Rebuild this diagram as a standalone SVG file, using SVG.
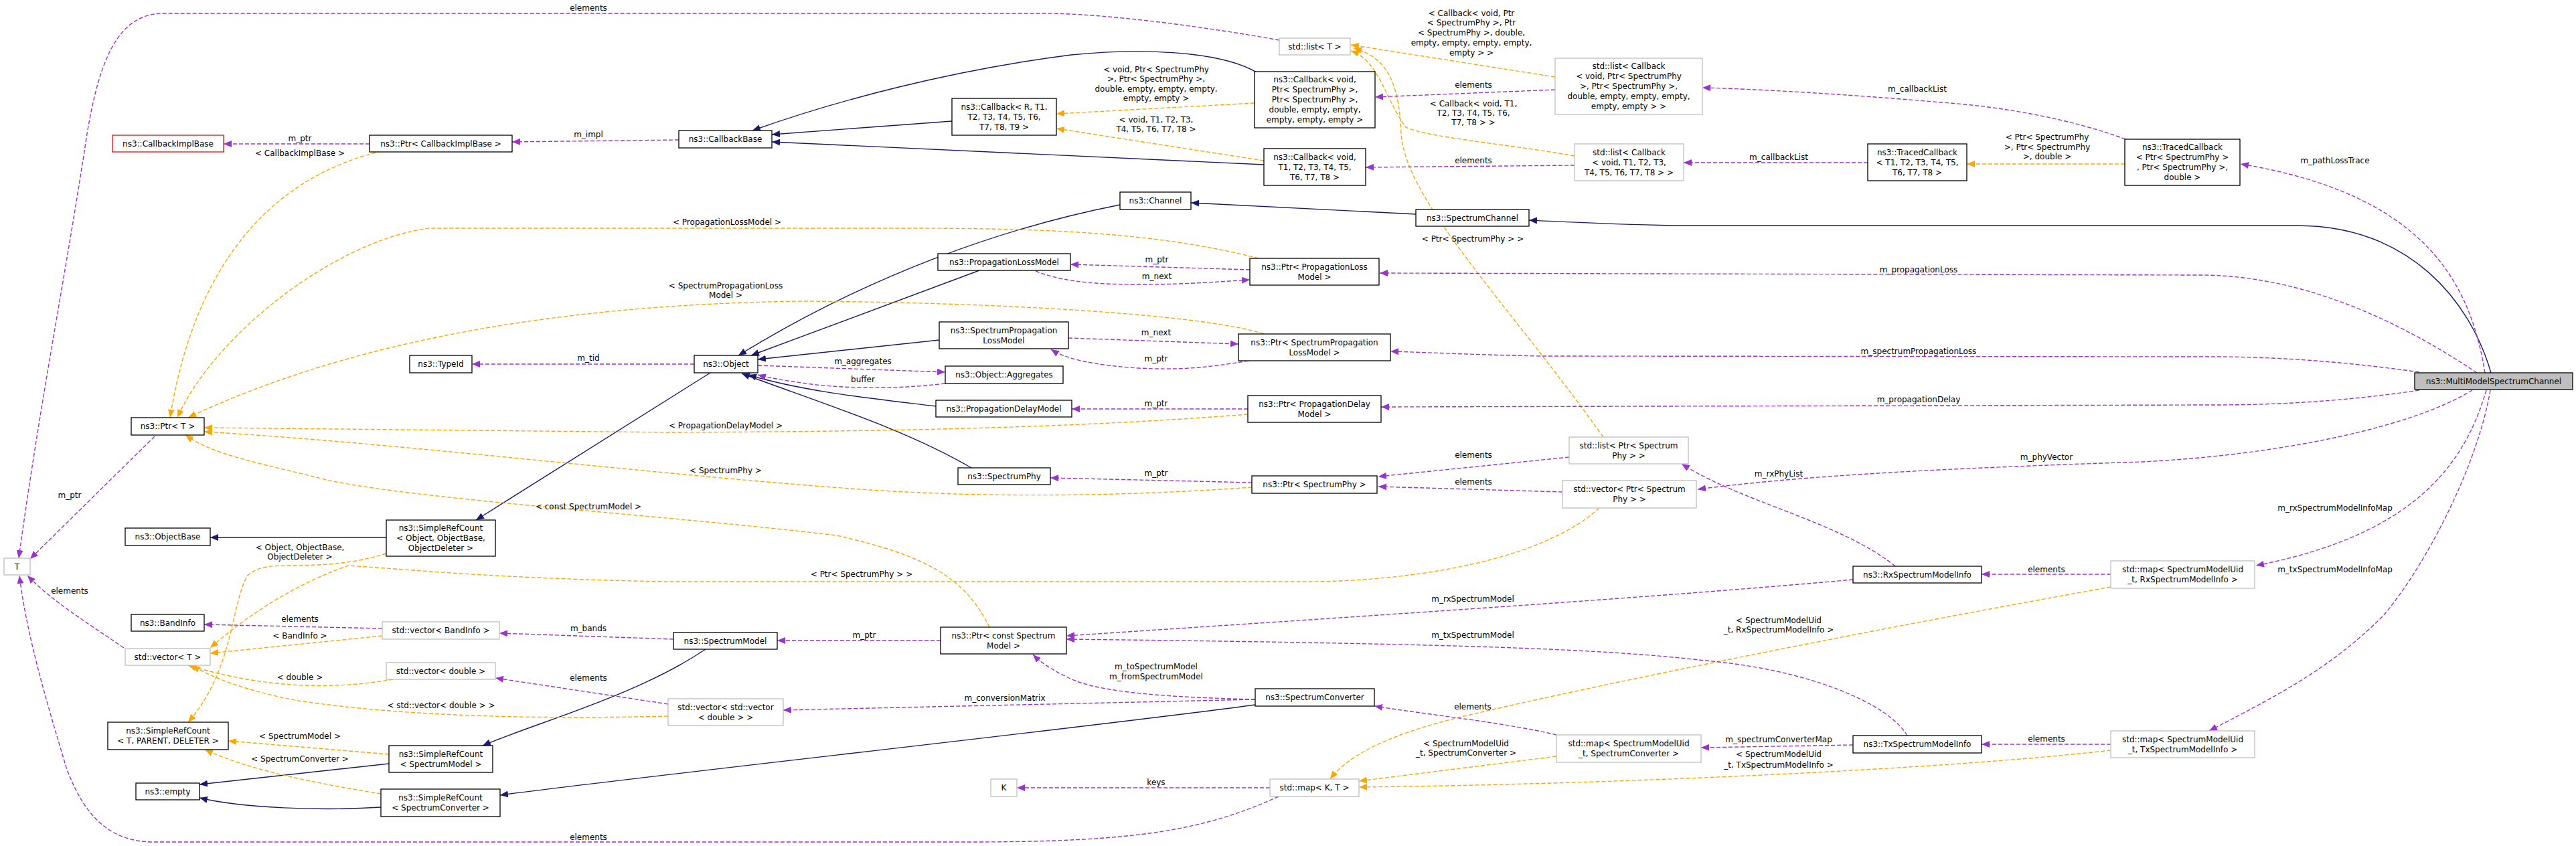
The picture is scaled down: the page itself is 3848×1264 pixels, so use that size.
<svg xmlns="http://www.w3.org/2000/svg" width="3848" height="1264" viewBox="0 0 3848 1264">
<style>
text{font-family:"DejaVu Sans","Liberation Sans",sans-serif;font-size:12px;fill:#000;text-anchor:middle}
.n rect{fill:#fff;stroke:#000;stroke-width:1.3}
.g rect{fill:#fff;stroke:#bfbfbf;stroke-width:1.3}
.r rect{fill:#fff;stroke:#ff0000;stroke-width:1.3}
.m rect{fill:#bfbfbf;stroke:#000;stroke-width:1.3}
.inh{fill:none;stroke:#191970;stroke-width:1.4;marker-end:url(#aN)}
.use{fill:none;stroke:#9a32cd;stroke-width:1.4;stroke-dasharray:6,3;marker-end:url(#aP)}
.tpl{fill:none;stroke:#ffa500;stroke-width:1.4;stroke-dasharray:6,3;marker-end:url(#aO)}
</style>
<defs>
<marker id="aN" markerUnits="userSpaceOnUse" markerWidth="12" markerHeight="10" viewBox="0 0 12 10" refX="12" refY="5" orient="auto"><path d="M0,0L12,5L0,10z" fill="#191970"/></marker>
<marker id="aP" markerUnits="userSpaceOnUse" markerWidth="12" markerHeight="10" viewBox="0 0 12 10" refX="12" refY="5" orient="auto"><path d="M0,0L12,5L0,10z" fill="#9a32cd"/></marker>
<marker id="aO" markerUnits="userSpaceOnUse" markerWidth="12" markerHeight="10" viewBox="0 0 12 10" refX="12" refY="5" orient="auto"><path d="M0,0L12,5L0,10z" fill="#ffa500"/></marker>
</defs>
<rect width="3848" height="1264" fill="#fff"/>
<g id="edges">
<path class="inh" d="M1422,181L1153,201"/>
<path class="inh" d="M1888,246L1153,212"/>
<path class="inh" d="M1877,108C1820,75 1700,72 1600,82C1420,105 1250,150 1124,195"/>
<path class="inh" d="M2115,320L1779,303"/>
<path class="inh" d="M3721,557C3690,450 3600,337 3430,337L2500,337C2400,335 2330,331 2284,329"/>
<path class="inh" d="M1673,306C1500,340 1300,410 1103,531"/>
<path class="inh" d="M1463,404L1122,531"/>
<path class="inh" d="M1403,508L1132,537"/>
<path class="inh" d="M1398,607C1300,595 1200,585 1118,560"/>
<path class="inh" d="M1451,699C1350,640 1220,600 1108,558"/>
<path class="inh" d="M1061,557L711,777"/>
<path class="inh" d="M577,803L314,803"/>
<path class="inh" d="M1054,970C950,1040 800,1080 721,1114"/>
<path class="inh" d="M1875,1053C1600,1090 1000,1155 747,1188"/>
<path class="inh" d="M581,1141L298,1172"/>
<path class="inh" d="M569,1206C480,1212 360,1207 298,1192"/>
<path class="tpl" d="M1874,154L1578,170"/>
<path class="tpl" d="M1888,240L1578,192"/>
<path class="tpl" d="M2323,115L2018,67"/>
<path class="tpl" d="M2352,233C2250,215 2130,205 2100,190C2070,150 2060,90 2018,76"/>
<path class="tpl" d="M2395,653C2250,450 2100,300 2093,200C2090,120 2070,85 2022,72"/>
<path class="tpl" d="M561,228C400,270 290,400 254,624"/>
<path class="tpl" d="M1880,386C1700,340 1500,341 1300,341L640,341C500,360 320,500 265,624"/>
<path class="tpl" d="M1888,499C1800,470 1500,452 1200,450C800,455 500,520 281,624"/>
<path class="tpl" d="M1864,619C1600,640 1300,645 1000,646L305,639"/>
<path class="tpl" d="M1870,728C1700,740 1500,745 1300,732C1000,712 600,662 305,645"/>
<path class="tpl" d="M1478,937C1440,860 1380,830 1250,800C1000,770 600,745 480,715C380,690 320,680 277,650"/>
<path class="tpl" d="M577,827C470,860 400,830 370,860C345,900 350,1000 281,1079"/>
<path class="tpl" d="M2389,759C2300,840 2100,869 1950,869L1000,869C750,865 600,850 520,845C450,870 380,910 314,968"/>
<path class="tpl" d="M571,950L314,976"/>
<path class="tpl" d="M587,1015C500,1030 400,1030 281,994"/>
<path class="tpl" d="M998,1070C800,1075 600,1070 446,1047C380,1035 320,1015 287,994"/>
<path class="tpl" d="M581,1127L341,1107"/>
<path class="tpl" d="M569,1186C470,1170 370,1150 306,1120"/>
<path class="tpl" d="M3174,245L2938,245"/>
<path class="tpl" d="M3153,877C2800,940 2400,1020 2200,1067C2100,1090 2020,1120 1987,1164"/>
<path class="tpl" d="M2325,1130L2030,1167"/>
<path class="tpl" d="M3153,1121C2900,1150 2400,1172 2030,1176"/>
<path class="use" d="M552,215L334,215"/>
<path class="use" d="M1014,209L765,212"/>
<path class="use" d="M1911,60C1800,40 1650,20 1560,20L245,20C180,20 150,80 130,200C100,400 60,600 28,834"/>
<path class="use" d="M231,652L45,835"/>
<path class="use" d="M185,968C130,930 80,900 41,860"/>
<path class="use" d="M1910,1190C1800,1240 1700,1258 1450,1258L230,1258C150,1258 120,1200 100,1150C70,1050 40,950 29,860"/>
<path class="use" d="M2323,134L2054,145"/>
<path class="use" d="M2352,247L2040,250"/>
<path class="use" d="M2790,243L2515,243"/>
<path class="use" d="M3175,208C3100,180 3000,160 2900,153C2750,140 2620,133 2543,131"/>
<path class="use" d="M3712,557C3690,420 3620,290 3347,245"/>
<path class="use" d="M3700,557C3600,490 3450,411 3287,411L2061,408"/>
<path class="use" d="M3614,556C3500,540 3400,533 3304,533L2300,532C2200,530 2120,526 2077,525"/>
<path class="use" d="M3614,583C3500,600 3400,605 3304,605L2063,608"/>
<path class="use" d="M3693,583C3600,640 3400,680 3200,690C2900,700 2700,710 2536,731"/>
<path class="use" d="M3714,583C3680,700 3600,800 3370,845"/>
<path class="use" d="M3720,583C3700,700 3620,850 3560,920C3480,1000 3400,1040 3300,1092"/>
<path class="use" d="M3153,858L2960,858"/>
<path class="use" d="M3153,1112L2960,1112"/>
<path class="use" d="M2831,846C2750,780 2600,750 2512,693"/>
<path class="use" d="M2768,866C2500,890 2200,910 1593,950"/>
<path class="use" d="M2849,1099C2820,1050 2700,1000 2547,987C2400,970 2200,962 1593,955"/>
<path class="use" d="M2768,1113L2541,1117"/>
<path class="use" d="M2325,1098C2250,1080 2150,1070 2053,1055"/>
<path class="use" d="M1897,1177L1519,1177"/>
<path class="use" d="M1875,1045C1750,1042 1640,1035 1597,1013C1570,1000 1555,990 1543,978"/>
<path class="use" d="M1875,1045L1170,1061"/>
<path class="use" d="M998,1052L740,1013"/>
<path class="use" d="M1006,955L746,946"/>
<path class="use" d="M571,939L305,933"/>
<path class="use" d="M1405,957L1161,957"/>
<path class="use" d="M1037,544L705,544"/>
<path class="use" d="M1132,546L1412,556"/>
<path class="use" d="M1412,573C1350,580 1290,582 1220,575C1180,570 1150,565 1132,560"/>
<path class="use" d="M1867,403L1599,395"/>
<path class="use" d="M1547,405C1580,418 1620,425 1700,425C1780,425 1830,420 1867,418"/>
<path class="use" d="M1596,505L1850,514"/>
<path class="use" d="M1865,539C1800,550 1760,553 1700,550C1627,545 1590,535 1570,522"/>
<path class="use" d="M1864,611L1601,611"/>
<path class="use" d="M1870,721L1569,714"/>
<path class="use" d="M2344,683L2059,712"/>
<path class="use" d="M2334,735L2059,727"/>
</g>
<g id="edge-labels">
<text x="879" y="16">elements</text>
<text x="448" y="211">m_ptr</text>
<text x="448" y="233">&lt; CallbackImplBase &gt;</text>
<text x="879" y="205">m_impl</text>
<text x="1727" y="108">&lt; void, Ptr&lt; SpectrumPhy</text>
<text x="1727" y="122">&gt;, Ptr&lt; SpectrumPhy &gt;,</text>
<text x="1727" y="137">double, empty, empty, empty,</text>
<text x="1727" y="151">empty, empty &gt;</text>
<text x="1727" y="183">&lt; void, T1, T2, T3,</text>
<text x="1727" y="197">T4, T5, T6, T7, T8 &gt;</text>
<text x="2198" y="24">&lt; Callback&lt; void, Ptr</text>
<text x="2198" y="38">&lt; SpectrumPhy &gt;, Ptr</text>
<text x="2198" y="53">&lt; SpectrumPhy &gt;, double,</text>
<text x="2198" y="68">empty, empty, empty, empty,</text>
<text x="2198" y="83">empty &gt; &gt;</text>
<text x="2201" y="131">elements</text>
<text x="2201" y="159">&lt; Callback&lt; void, T1,</text>
<text x="2201" y="173">T2, T3, T4, T5, T6,</text>
<text x="2201" y="187">T7, T8 &gt; &gt;</text>
<text x="2201" y="244">elements</text>
<text x="2657" y="239">m_callbackList</text>
<text x="2864" y="137">m_callbackList</text>
<text x="3058" y="209">&lt; Ptr&lt; SpectrumPhy</text>
<text x="3058" y="224">&gt;, Ptr&lt; SpectrumPhy</text>
<text x="3058" y="238">&gt;, double &gt;</text>
<text x="3488" y="244">m_pathLossTrace</text>
<text x="2200" y="361">&lt; Ptr&lt; SpectrumPhy &gt; &gt;</text>
<text x="1086" y="336">&lt; PropagationLossModel &gt;</text>
<text x="2866" y="407">m_propagationLoss</text>
<text x="1728" y="392">m_ptr</text>
<text x="1728" y="417">m_next</text>
<text x="1084" y="431">&lt; SpectrumPropagationLoss</text>
<text x="1084" y="445">Model &gt;</text>
<text x="1727" y="501">m_next</text>
<text x="1727" y="540">m_ptr</text>
<text x="2866" y="529">m_spectrumPropagationLoss</text>
<text x="879" y="539">m_tid</text>
<text x="1289" y="544">m_aggregates</text>
<text x="1289" y="571">buffer</text>
<text x="2866" y="601">m_propagationDelay</text>
<text x="1727" y="607">m_ptr</text>
<text x="1084" y="640">&lt; PropagationDelayModel &gt;</text>
<text x="2201" y="684">elements</text>
<text x="3057" y="687">m_phyVector</text>
<text x="1084" y="707">&lt; SpectrumPhy &gt;</text>
<text x="1727" y="711">m_ptr</text>
<text x="2657" y="712">m_rxPhyList</text>
<text x="2201" y="724">elements</text>
<text x="104" y="744">m_ptr</text>
<text x="879" y="761">&lt; const SpectrumModel &gt;</text>
<text x="3488" y="763">m_rxSpectrumModelInfoMap</text>
<text x="448" y="822">&lt; Object, ObjectBase,</text>
<text x="448" y="836">ObjectDeleter &gt;</text>
<text x="3057" y="855">elements</text>
<text x="3488" y="855">m_txSpectrumModelInfoMap</text>
<text x="1287" y="862">&lt; Ptr&lt; SpectrumPhy &gt; &gt;</text>
<text x="104" y="887">elements</text>
<text x="2200" y="899">m_rxSpectrumModel</text>
<text x="448" y="929">elements</text>
<text x="2657" y="931">&lt; SpectrumModelUid</text>
<text x="2657" y="945">_t, RxSpectrumModelInfo &gt;</text>
<text x="879" y="943">m_bands</text>
<text x="1291" y="953">m_ptr</text>
<text x="2200" y="953">m_txSpectrumModel</text>
<text x="448" y="954">&lt; BandInfo &gt;</text>
<text x="1727" y="1000">m_toSpectrumModel</text>
<text x="1727" y="1015">m_fromSpectrumModel</text>
<text x="448" y="1016">&lt; double &gt;</text>
<text x="879" y="1017">elements</text>
<text x="1501" y="1047">m_conversionMatrix</text>
<text x="659" y="1058">&lt; std::vector&lt; double &gt; &gt;</text>
<text x="2200" y="1060">elements</text>
<text x="448" y="1104">&lt; SpectrumModel &gt;</text>
<text x="3057" y="1108">elements</text>
<text x="2657" y="1109">m_spectrumConverterMap</text>
<text x="2190" y="1115">&lt; SpectrumModelUid</text>
<text x="2190" y="1129">_t, SpectrumConverter &gt;</text>
<text x="2657" y="1131">&lt; SpectrumModelUid</text>
<text x="2657" y="1147">_t, TxSpectrumModelInfo &gt;</text>
<text x="448" y="1138">&lt; SpectrumConverter &gt;</text>
<text x="1727" y="1173">keys</text>
<text x="879" y="1255">elements</text>
</g>
<g id="n_CallbackImplBase" class="r"><rect x="168" y="202" width="166" height="25"/><text x="251" y="218.5">ns3::CallbackImplBase</text></g>
<g id="n_PtrCallbackImplBase" class="n"><rect x="552" y="202" width="213" height="25"/><text x="658.5" y="218.5">ns3::Ptr&lt; CallbackImplBase &gt;</text></g>
<g id="n_CallbackBase" class="n"><rect x="1014" y="195" width="139" height="26"/><text x="1083.5" y="212">ns3::CallbackBase</text></g>
<g id="n_CallbackRT" class="n"><rect x="1422" y="147" width="156" height="55"/><text x="1500" y="163.5">ns3::Callback&lt; R, T1,</text><text x="1500" y="178.5">T2, T3, T4, T5, T6,</text><text x="1500" y="193.5">T7, T8, T9 &gt;</text></g>
<g id="n_CallbackVoidPtr" class="n"><rect x="1874" y="107" width="180" height="84"/><text x="1964" y="123">ns3::Callback&lt; void,</text><text x="1964" y="138">Ptr&lt; SpectrumPhy &gt;,</text><text x="1964" y="153">Ptr&lt; SpectrumPhy &gt;,</text><text x="1964" y="168">double, empty, empty,</text><text x="1964" y="183">empty, empty, empty &gt;</text></g>
<g id="n_CallbackVoidT" class="n"><rect x="1888" y="222" width="152" height="55"/><text x="1964" y="238.5">ns3::Callback&lt; void,</text><text x="1964" y="253.5">T1, T2, T3, T4, T5,</text><text x="1964" y="268.5">T6, T7, T8 &gt;</text></g>
<g id="n_ListT" class="g"><rect x="1911" y="57" width="106" height="25"/><text x="1964" y="73.5">std::list&lt; T &gt;</text></g>
<g id="n_ListCbPtr" class="g"><rect x="2323" y="87" width="220" height="84"/><text x="2433" y="103">std::list&lt; Callback</text><text x="2433" y="118">&lt; void, Ptr&lt; SpectrumPhy</text><text x="2433" y="133">&gt;, Ptr&lt; SpectrumPhy &gt;,</text><text x="2433" y="148">double, empty, empty, empty,</text><text x="2433" y="163">empty, empty &gt; &gt;</text></g>
<g id="n_ListCbT" class="g"><rect x="2352" y="215" width="163" height="55"/><text x="2433.5" y="231.5">std::list&lt; Callback</text><text x="2433.5" y="246.5">&lt; void, T1, T2, T3,</text><text x="2433.5" y="261.5">T4, T5, T6, T7, T8 &gt; &gt;</text></g>
<g id="n_TracedT" class="n"><rect x="2790" y="215" width="148" height="55"/><text x="2864" y="231.5">ns3::TracedCallback</text><text x="2864" y="246.5">&lt; T1, T2, T3, T4, T5,</text><text x="2864" y="261.5">T6, T7, T8 &gt;</text></g>
<g id="n_TracedPtr" class="n"><rect x="3174" y="208" width="172" height="69"/><text x="3260" y="224">ns3::TracedCallback</text><text x="3260" y="239">&lt; Ptr&lt; SpectrumPhy &gt;</text><text x="3260" y="254">, Ptr&lt; SpectrumPhy &gt;,</text><text x="3260" y="269">double &gt;</text></g>
<g id="n_MultiModelSpectrumChannel" class="m"><rect x="3607" y="557" width="236" height="25"/><text x="3725" y="573.5">ns3::MultiModelSpectrumChannel</text></g>
<g id="n_SpectrumChannel" class="n"><rect x="2115" y="313" width="169" height="25"/><text x="2199.5" y="329.5">ns3::SpectrumChannel</text></g>
<g id="n_Channel" class="n"><rect x="1673" y="287" width="106" height="26"/><text x="1726" y="304">ns3::Channel</text></g>
<g id="n_PropagationLossModel" class="n"><rect x="1401" y="379" width="198" height="25"/><text x="1500" y="395.5">ns3::PropagationLossModel</text></g>
<g id="n_PtrPropagationLossModel" class="n"><rect x="1867" y="386" width="193" height="40"/><text x="1963.5" y="402.5">ns3::Ptr&lt; PropagationLoss</text><text x="1963.5" y="417.5">Model &gt;</text></g>
<g id="n_SpectrumPropagationLossModel" class="n"><rect x="1403" y="481" width="193" height="40"/><text x="1499.5" y="497.5">ns3::SpectrumPropagation</text><text x="1499.5" y="512.5">LossModel</text></g>
<g id="n_PtrSpectrumPropagationLossModel" class="n"><rect x="1850" y="499" width="227" height="40"/><text x="1963.5" y="515.5">ns3::Ptr&lt; SpectrumPropagation</text><text x="1963.5" y="530.5">LossModel &gt;</text></g>
<g id="n_Object" class="n"><rect x="1037" y="531" width="95" height="26"/><text x="1084.5" y="548">ns3::Object</text></g>
<g id="n_Aggregates" class="n"><rect x="1412" y="547" width="176" height="26"/><text x="1500" y="564">ns3::Object::Aggregates</text></g>
<g id="n_TypeId" class="n"><rect x="612" y="531" width="93" height="26"/><text x="658.5" y="548">ns3::TypeId</text></g>
<g id="n_PropagationDelayModel" class="n"><rect x="1398" y="598" width="203" height="25"/><text x="1499.5" y="614.5">ns3::PropagationDelayModel</text></g>
<g id="n_PtrPropagationDelayModel" class="n"><rect x="1864" y="591" width="199" height="40"/><text x="1963.5" y="607.5">ns3::Ptr&lt; PropagationDelay</text><text x="1963.5" y="622.5">Model &gt;</text></g>
<g id="n_SpectrumPhy" class="n"><rect x="1431" y="699" width="138" height="25"/><text x="1500" y="715.5">ns3::SpectrumPhy</text></g>
<g id="n_PtrSpectrumPhy" class="n"><rect x="1870" y="711" width="187" height="26"/><text x="1963.5" y="728">ns3::Ptr&lt; SpectrumPhy &gt;</text></g>
<g id="n_ListPtrPhy" class="g"><rect x="2344" y="653" width="178" height="40"/><text x="2433" y="669.5">std::list&lt; Ptr&lt; Spectrum</text><text x="2433" y="684.5">Phy &gt; &gt;</text></g>
<g id="n_VecPtrPhy" class="g"><rect x="2334" y="718" width="200" height="41"/><text x="2434" y="735">std::vector&lt; Ptr&lt; Spectrum</text><text x="2434" y="750">Phy &gt; &gt;</text></g>
<g id="n_PtrT" class="n"><rect x="196" y="624" width="109" height="26"/><text x="250.5" y="641">ns3::Ptr&lt; T &gt;</text></g>
<g id="n_T" class="g"><rect x="6" y="834" width="39" height="25"/><text x="25.5" y="850.5">T</text></g>
<g id="n_ObjectBase" class="n"><rect x="187" y="789" width="127" height="26"/><text x="250.5" y="806">ns3::ObjectBase</text></g>
<g id="n_SimpleRefCountObject" class="n"><rect x="577" y="777" width="163" height="54"/><text x="658.5" y="793">ns3::SimpleRefCount</text><text x="658.5" y="808">&lt; Object, ObjectBase,</text><text x="658.5" y="823">ObjectDeleter &gt;</text></g>
<g id="n_BandInfo" class="n"><rect x="196" y="918" width="109" height="25"/><text x="250.5" y="934.5">ns3::BandInfo</text></g>
<g id="n_VectorT" class="g"><rect x="187" y="969" width="127" height="25"/><text x="250.5" y="985.5">std::vector&lt; T &gt;</text></g>
<g id="n_VectorBandInfo" class="g"><rect x="571" y="929" width="175" height="26"/><text x="658.5" y="946">std::vector&lt; BandInfo &gt;</text></g>
<g id="n_VectorDouble" class="g"><rect x="577" y="990" width="163" height="25"/><text x="658.5" y="1006.5">std::vector&lt; double &gt;</text></g>
<g id="n_SimpleRefCountT" class="n"><rect x="161" y="1079" width="180" height="41"/><text x="251" y="1096">ns3::SimpleRefCount</text><text x="251" y="1111">&lt; T, PARENT, DELETER &gt;</text></g>
<g id="n_SimpleRefCountModel" class="n"><rect x="581" y="1114" width="155" height="40"/><text x="658.5" y="1130.5">ns3::SimpleRefCount</text><text x="658.5" y="1145.5">&lt; SpectrumModel &gt;</text></g>
<g id="n_empty" class="n"><rect x="203" y="1170" width="95" height="25"/><text x="250.5" y="1186.5">ns3::empty</text></g>
<g id="n_SimpleRefCountConverter" class="n"><rect x="569" y="1179" width="178" height="41"/><text x="658" y="1196">ns3::SimpleRefCount</text><text x="658" y="1211">&lt; SpectrumConverter &gt;</text></g>
<g id="n_SpectrumModel" class="n"><rect x="1006" y="945" width="155" height="25"/><text x="1083.5" y="961.5">ns3::SpectrumModel</text></g>
<g id="n_PtrConstSpectrumModel" class="n"><rect x="1405" y="937" width="188" height="40"/><text x="1499" y="953.5">ns3::Ptr&lt; const Spectrum</text><text x="1499" y="968.5">Model &gt;</text></g>
<g id="n_VectorVectorDouble" class="g"><rect x="998" y="1044" width="172" height="40"/><text x="1084" y="1060.5">std::vector&lt; std::vector</text><text x="1084" y="1075.5">&lt; double &gt; &gt;</text></g>
<g id="n_SpectrumConverter" class="n"><rect x="1875" y="1029" width="178" height="26"/><text x="1964" y="1046">ns3::SpectrumConverter</text></g>
<g id="n_K" class="g"><rect x="1480" y="1164" width="39" height="26"/><text x="1499.5" y="1181">K</text></g>
<g id="n_MapKT" class="g"><rect x="1897" y="1164" width="133" height="26"/><text x="1963.5" y="1181">std::map&lt; K, T &gt;</text></g>
<g id="n_MapConverter" class="g"><rect x="2325" y="1098" width="216" height="41"/><text x="2433" y="1115">std::map&lt; SpectrumModelUid</text><text x="2433" y="1130">_t, SpectrumConverter &gt;</text></g>
<g id="n_RxSpectrumModelInfo" class="n"><rect x="2768" y="846" width="192" height="25"/><text x="2864" y="862.5">ns3::RxSpectrumModelInfo</text></g>
<g id="n_TxSpectrumModelInfo" class="n"><rect x="2768" y="1099" width="192" height="26"/><text x="2864" y="1116">ns3::TxSpectrumModelInfo</text></g>
<g id="n_MapRx" class="g"><rect x="3153" y="838" width="215" height="41"/><text x="3260.5" y="855">std::map&lt; SpectrumModelUid</text><text x="3260.5" y="870">_t, RxSpectrumModelInfo &gt;</text></g>
<g id="n_MapTx" class="g"><rect x="3153" y="1092" width="215" height="40"/><text x="3260.5" y="1108.5">std::map&lt; SpectrumModelUid</text><text x="3260.5" y="1123.5">_t, TxSpectrumModelInfo &gt;</text></g>
</svg>
